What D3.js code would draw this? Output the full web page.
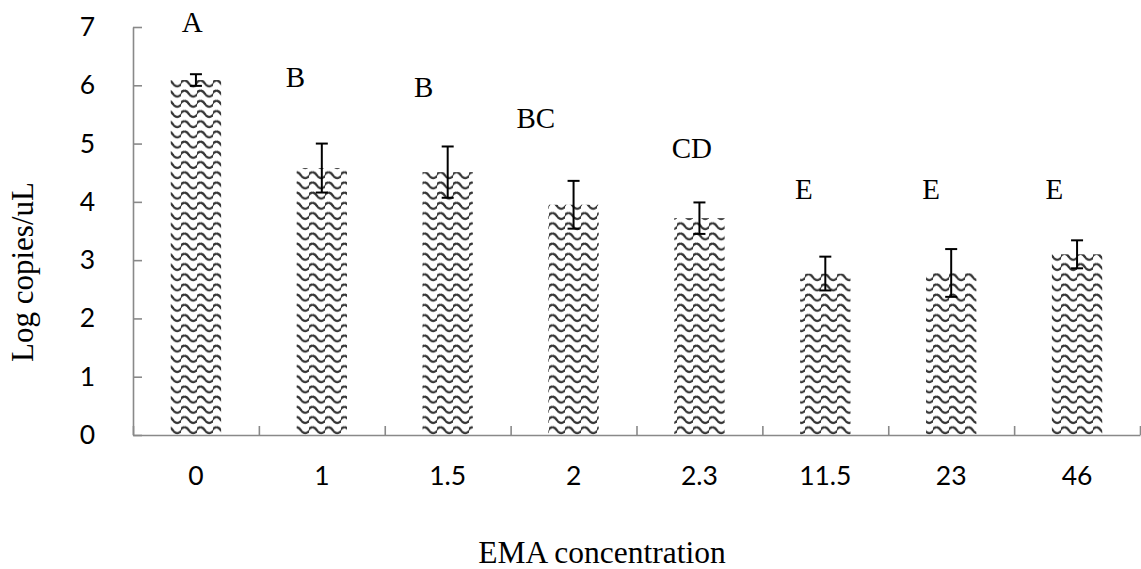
<!DOCTYPE html>
<html>
<head>
<meta charset="utf-8">
<script src="https://cdn.jsdelivr.net/npm/d3@7"></script>
<style>
  html, body { margin: 0; padding: 0; background: #fff; }
  svg { display: block; }
</style>
</head>
<body>
<svg id="chart" width="1141" height="569"></svg>
<script>
// EMA concentrations (x categories)
const categories = ["0", "1", "1.5", "2", "2.3", "11.5", "23", "46"];
// Mean log copies/uL per concentration
const means = [6.09, 4.58, 4.51, 3.95, 3.72, 2.77, 2.78, 3.10];
// Error bar half-widths
const errors = [0.10, 0.42, 0.44, 0.41, 0.27, 0.29, 0.41, 0.24];
// Significance groups
const groupLetters = ["A", "B", "B", "BC", "CD", "E", "E", "E"];
// Letter placement in axis units
const letterLevels = [6.91, 5.97, 5.80, 5.27, 4.75, 4.05, 4.05, 4.05];
// Letter horizontal shift as fraction of category width
const letterShift = [-0.03, -0.21, -0.19, -0.30, -0.06, -0.17, -0.16, -0.18];
const yTicks = [0, 1, 2, 3, 4, 5, 6, 7];

const svg = d3.select("#chart");
const W = 1141, H = 569;
const margin = { top: 27, right: 1, bottom: 134, left: 133 };
const innerW = W - margin.left - margin.right;
const innerH = H - margin.top - margin.bottom;

const axisColor = "#898989";
const sansFont = "Lato, 'Open Sans', sans-serif";
const serifFont = "'Liberation Serif', 'Times New Roman', serif";

// Wave hatch fill used by the bars
const defs = svg.append("defs");
const pat = defs.append("pattern")
  .attr("id", "wave")
  .attr("patternUnits", "userSpaceOnUse")
  .attr("width", 16)
  .attr("height", 10.2);
pat.append("rect").attr("width", 16).attr("height", 10.2).attr("fill", "#fff");
pat.append("path")
  .attr("d", "M-1,5.6 C1.5,1.4 5.5,1.4 8,5.6 C10.5,9.2 13.5,9.2 17,5.6")
  .attr("fill", "none")
  .attr("stroke", "#353535")
  .attr("stroke-width", 2.3)
  .attr("stroke-dasharray", "5 1.6")
  .attr("stroke-linecap", "round");

const g = svg.append("g").attr("transform", `translate(${margin.left},${margin.top})`);

const x = d3.scaleBand().domain(categories).range([0, innerW]).paddingInner(0.6).paddingOuter(0.3);
const y = d3.scaleLinear().domain([0, 7]).range([innerH, 0]);
const bounds = d3.scaleLinear().domain([0, categories.length]).range([0, innerW]);

// Bars
g.selectAll("rect.bar")
  .data(categories)
  .join("rect")
  .attr("class", "bar")
  .attr("x", d => x(d))
  .attr("width", x.bandwidth())
  .attr("y", (d, i) => y(means[i]))
  .attr("height", (d, i) => y(0) - y(means[i]))
  .attr("fill", "url(#wave)");

// Y axis
const yAxis = g.append("g")
  .call(d3.axisLeft(y).tickValues(yTicks).tickFormat(d3.format("d")).tickSizeInner(-9).tickSizeOuter(0).tickPadding(38));
yAxis.select(".domain").attr("stroke", axisColor).attr("stroke-width", 1.6);
yAxis.selectAll(".tick line").attr("stroke", axisColor).attr("stroke-width", 1.6);
yAxis.selectAll(".tick text")
  .attr("font-family", sansFont)
  .attr("font-size", 26.5)
  .attr("fill", "#000");

// X axis: boundary ticks
const xTickAxis = g.append("g")
  .attr("transform", `translate(0,${innerH})`)
  .call(d3.axisBottom(bounds).tickValues(d3.range(0, categories.length + 1)).tickFormat("").tickSizeInner(-9).tickSizeOuter(0));
xTickAxis.select(".domain").attr("stroke", axisColor).attr("stroke-width", 1.6);
xTickAxis.selectAll(".tick line").attr("stroke", axisColor).attr("stroke-width", 1.6);

// X axis: category labels
const xAxis = g.append("g")
  .attr("transform", `translate(0,${innerH})`)
  .call(d3.axisBottom(x).tickSize(0));
xAxis.select(".domain").remove();
xAxis.selectAll(".tick text")
  .attr("y", 50)
  .attr("dy", null)
  .attr("font-family", sansFont)
  .attr("font-size", 26.5)
  .attr("fill", "#000");

// Error bars
const capHalf = 6;
const eb = g.append("g").attr("stroke", "#000").attr("stroke-width", 2);
categories.forEach((c, i) => {
  const cx = x(c) + x.bandwidth() / 2;
  const top = y(means[i] + errors[i]);
  const bot = y(means[i] - errors[i]);
  eb.append("line").attr("x1", cx).attr("x2", cx).attr("y1", top).attr("y2", bot);
  eb.append("line").attr("x1", cx - capHalf).attr("x2", cx + capHalf).attr("y1", top).attr("y2", top);
  eb.append("line").attr("x1", cx - capHalf).attr("x2", cx + capHalf).attr("y1", bot).attr("y2", bot);
});

// Significance letters
g.selectAll("text.grp")
  .data(groupLetters)
  .join("text")
  .attr("class", "grp")
  .attr("x", (d, i) => x(categories[i]) + x.bandwidth() / 2 + letterShift[i] * x.step())
  .attr("y", (d, i) => y(letterLevels[i]))
  .attr("text-anchor", "middle")
  .attr("font-family", serifFont)
  .attr("font-size", 29)
  .attr("fill", "#000")
  .text(d => d);

// Axis titles
svg.append("text")
  .attr("transform", "translate(33,272) rotate(-90)")
  .attr("text-anchor", "middle")
  .attr("font-family", serifFont)
  .attr("font-size", 31)
  .attr("fill", "#000")
  .text("Log copies/uL");

svg.append("text")
  .attr("x", 602)
  .attr("y", 563)
  .attr("text-anchor", "middle")
  .attr("font-family", serifFont)
  .attr("font-size", 31.5)
  .attr("fill", "#000")
  .text("EMA concentration");
</script>
</body>
</html>
